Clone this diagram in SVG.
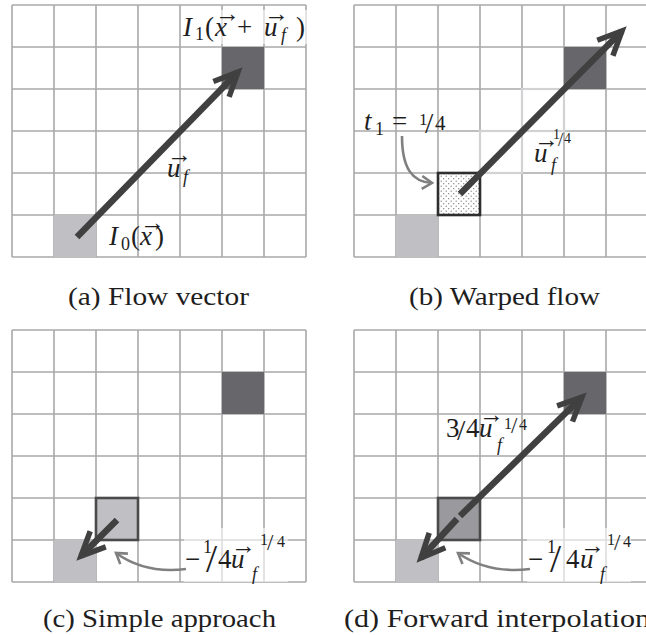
<svg xmlns="http://www.w3.org/2000/svg" width="646" height="635" viewBox="0 0 646 635">
<style>
.grid{fill:none;stroke:#a9a9a9;stroke-width:1.6}
.light{fill:#c0c0c4}
.dark{fill:#67676b}
.ghost{fill:#fff;stroke:#d2d2d4;stroke-width:2.2}
.sel{stroke:#4a4a4a;stroke-width:2.6}
.shaft{fill:none;stroke:#404040;stroke-width:6.5;marker-end:url(#ah)}
.curve{fill:none;stroke:#808080;stroke-width:2.6;marker-end:url(#ahg)}
.m{font-family:'Liberation Serif','DejaVu Serif',serif;font-size:27px;fill:#1e1e1e}
.i{font-style:italic}
.s{font-size:18px}
.v{font-size:25px;font-style:normal}
.cap{font-family:'Liberation Serif','DejaVu Serif',serif;font-size:25px;fill:#1e1e1e}
.bg{fill:#fff;opacity:.6}
</style>
<defs>
<path id="gridp" class="grid" d="M12 5V257M54 5V257M96 5V257M138 5V257M180 5V257M222 5V257M264 5V257M306 5V257M12 5H306M12 47H306M12 89H306M12 131H306M12 173H306M12 215H306M12 257H306"/>
<marker id="ah" markerUnits="userSpaceOnUse" markerWidth="60" markerHeight="60" viewBox="-30 -30 60 60" refX="0" refY="0" orient="auto" overflow="visible">
<path d="M-24,-11 L0,0 L-24,11" fill="none" stroke="#404040" stroke-width="5.5"/>
</marker>
<marker id="ahg" markerUnits="userSpaceOnUse" markerWidth="30" markerHeight="30" viewBox="-15 -15 30 30" refX="0" refY="0" orient="auto" overflow="visible">
<path d="M-10,-6.5 L0,0 L-10,6.5" fill="none" stroke="#808080" stroke-width="2.6"/>
</marker>
<pattern id="dots" width="5" height="5" patternUnits="userSpaceOnUse">
<rect width="5" height="5" fill="#fff"/>
<circle cx="1.2" cy="1.2" r="0.65" fill="#777"/>
<circle cx="3.7" cy="3.7" r="0.65" fill="#777"/>
</pattern>
</defs>

<!-- Panel (a) -->
<g id="panel-a">
<use href="#gridp"/>
<g id="a-source"><rect class="light" x="54" y="215" width="42" height="42"/></g>
<g id="a-target"><rect class="dark" x="222" y="47" width="42" height="42"/></g>
</g>

<!-- Panel (b) -->
<g id="panel-b">
<use href="#gridp" transform="translate(342,0)"/>
<g id="b-source"><rect class="light" x="396" y="215" width="42" height="42"/></g>
<g id="b-target"><rect class="dark" x="564" y="47" width="42" height="42"/></g>
<g id="b-path1"><rect class="ghost" x="480" y="131" width="42" height="42"/></g>
<g id="b-path2"><rect class="ghost" x="522" y="89" width="42" height="42"/></g>
<g id="b-warped"><rect x="438" y="173" width="42" height="42" fill="url(#dots)" stroke="#2e2e2e" stroke-width="2.6"/></g>
</g>

<!-- Panel (c) -->
<g id="panel-c">
<use href="#gridp" transform="translate(0,325)"/>
<g id="c-source"><rect class="light" x="54" y="540" width="42" height="42"/></g>
<g id="c-target"><rect class="dark" x="222" y="372" width="42" height="42"/></g>
<g id="c-warped"><rect class="light sel" x="96" y="498" width="42" height="42"/></g>
</g>

<!-- Panel (d) -->
<g id="panel-d">
<use href="#gridp" transform="translate(342,325)"/>
<g id="d-source"><rect class="light" x="396" y="540" width="42" height="42"/></g>
<g id="d-target"><rect class="dark" x="564" y="372" width="42" height="42"/></g>
<g id="d-warped"><rect class="sel" fill="#9a9a9e" x="438" y="498" width="42" height="42"/></g>
</g>

<!-- label backgrounds -->
<g id="label-bg">
<rect class="bg" x="181" y="10" width="126" height="34"/>
<rect class="bg" x="527" y="528" width="104" height="54"/>
<rect class="bg" x="184" y="528" width="104" height="54"/>
</g>

<!-- Connectors -->
<g id="connectors">
<path class="shaft" d="M77 237 L238 72"/>
<path class="shaft" d="M460 194 L622 31"/>
<path class="shaft" d="M117 520 L81 556"/>
<path class="shaft" d="M460 516 L582 397"/>
<path class="shaft" d="M457 519 L421 558"/>
<path class="curve" d="M402 136 C402 168 412 182 432 183"/>
<path class="curve" d="M186 569 Q145 574 116 553"/>
<path class="curve" d="M530 569 Q488 574 458 553"/>
</g>

<!-- Labels -->
<g id="labels">
<text class="m"><tspan class="i" x="183" y="36">I</tspan><tspan class="s" x="195" y="40">1</tspan><tspan x="205" y="36">(</tspan><tspan class="i" x="215" y="36">x</tspan><tspan class="v" x="215" y="22">→</tspan><tspan x="237" y="36">+</tspan><tspan class="i" x="264" y="36">u</tspan><tspan class="v" x="264" y="22">→</tspan><tspan class="i s" x="281" y="41">f</tspan><tspan x="296" y="36">)</tspan></text>
<text class="m"><tspan class="i" x="167" y="177">u</tspan><tspan class="v" x="167" y="163">→</tspan><tspan class="i s" x="183" y="183">f</tspan></text>
<text class="m"><tspan class="i" x="109" y="245">I</tspan><tspan class="s" x="121" y="250">0</tspan><tspan x="131" y="245">(</tspan><tspan class="i" x="140" y="245">x</tspan><tspan class="v" x="140" y="231">→</tspan><tspan x="155" y="245">)</tspan></text>

<text class="m"><tspan class="i" x="364" y="130">t</tspan><tspan class="s" x="375" y="135">1</tspan><tspan x="392" y="130">=</tspan><tspan font-size="17" x="419" y="125">1</tspan><tspan font-size="30" x="425" y="133">/</tspan><tspan font-size="21" x="435" y="130">4</tspan></text>
<text class="m"><tspan class="i" x="534" y="162">u</tspan><tspan class="v" x="534" y="148">→</tspan><tspan class="i s" x="551" y="171">f</tspan><tspan font-size="14" x="553" y="139">1</tspan><tspan font-size="19" x="558" y="146">/</tspan><tspan font-size="14" x="564" y="143">4</tspan></text>

<text class="m"><tspan x="185" y="568">−</tspan><tspan class="s" x="203" y="553">1</tspan><tspan font-size="40" x="206" y="572">/</tspan><tspan x="218" y="568">4</tspan><tspan class="i" x="231" y="568">u</tspan><tspan class="v" x="231" y="554">→</tspan><tspan class="i s" x="252" y="580">f</tspan><tspan font-size="16" x="260" y="545">1</tspan><tspan font-size="23" x="267" y="550">/</tspan><tspan font-size="16" x="277" y="547">4</tspan></text>

<text class="m"><tspan x="446" y="437">3</tspan><tspan font-size="30" x="457" y="440">/</tspan><tspan x="466" y="437">4</tspan><tspan class="i" x="479" y="437">u</tspan><tspan class="v" x="479" y="423">→</tspan><tspan class="i s" x="497" y="451">f</tspan><tspan font-size="16" x="504" y="429">1</tspan><tspan font-size="23" x="511" y="433">/</tspan><tspan font-size="16" x="519" y="430">4</tspan></text>

<text class="m"><tspan x="528" y="568">−</tspan><tspan class="s" x="547" y="553">1</tspan><tspan font-size="40" x="550" y="572">/</tspan><tspan x="566" y="568">4</tspan><tspan class="i" x="580" y="568">u</tspan><tspan class="v" x="580" y="554">→</tspan><tspan class="i s" x="600" y="580">f</tspan><tspan font-size="16" x="607" y="545">1</tspan><tspan font-size="23" x="614" y="550">/</tspan><tspan font-size="16" x="623" y="547">4</tspan></text>
</g>

<!-- Captions -->
<g id="captions">
<text class="cap" x="68" y="305" textLength="181" lengthAdjust="spacingAndGlyphs">(a) Flow vector</text>
<text class="cap" x="409" y="305" textLength="191" lengthAdjust="spacingAndGlyphs">(b) Warped flow</text>
<text class="cap" x="43" y="627" textLength="233" lengthAdjust="spacingAndGlyphs">(c) Simple approach</text>
<text class="cap" x="344" y="627" textLength="306" lengthAdjust="spacingAndGlyphs">(d) Forward interpolation</text>
</g>
</svg>
